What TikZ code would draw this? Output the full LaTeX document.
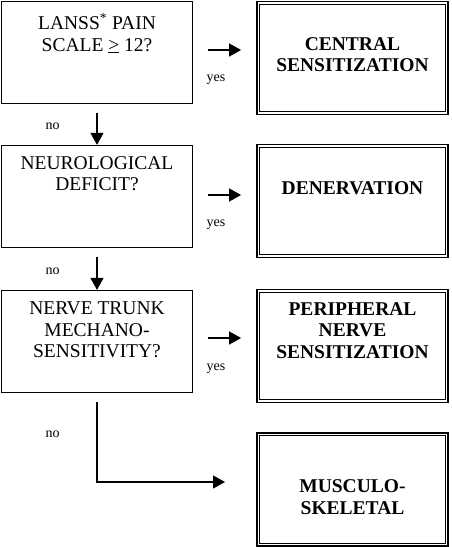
\documentclass[tikz,border=0pt]{standalone}
\usepackage{fontspec}
\setmainfont{Liberation Serif}
\usepackage{tikz}
\usetikzlibrary{arrows.meta}
\usetikzlibrary{positioning}

\tikzset{
  qbox/.style={draw, line width=1.2pt, minimum width=191pt, minimum height=102pt, inner sep=0pt},
  qtext/.style={align=center, inner sep=0pt, font=\fontsize{19.5}{21.5}\selectfont},
  rbox/.style={draw, line width=1.8pt, minimum width=191pt, minimum height=113pt, inner sep=0pt,
    append after command={\pgfextra{\draw[line width=0.8pt]
      ([shift={(3.6pt,-3.6pt)}]\tikzlastnode.north west) rectangle
      ([shift={(-3.6pt,3.6pt)}]\tikzlastnode.south east);}}},
  rtext/.style={align=center, inner sep=0pt, font=\fontsize{19.5}{21.5}\selectfont\bfseries},
  small/.style={inner sep=0pt, font=\fontsize{14}{16}\selectfont},
  arrow/.style={line width=1.2pt, -{Triangle[length=12pt,width=13pt]}}
}

\begin{document}
\begin{tikzpicture}[x=1pt,y=-1pt]
\useasboundingbox (0,0) rectangle (451,547);

% questions
\node[qbox] (q1) at (97,52.5) {};
\node[qtext, below=12pt of q1.north] (q1t) {LANSS\textsuperscript{*} PAIN\\SCALE \underline{>} 12?};
\node[qbox] (q2) at (97,196.5) {};
\node[qtext, below=11pt of q2.north] (q2t) {NEUROLOGICAL\\DEFICIT?};
\node[qbox] (q3) at (97,341.5) {};
\node[qtext, below=12pt of q3.north] (q3t) {NERVE TRUNK\\MECHANO-\\SENSITIVITY?};

% outcomes
\node[rbox] (r1) at (352.5,58) {};
\node[rtext] (r1t) at (352.5,54.5) {CENTRAL\\SENSITIZATION};
\node[rbox] (r2) at (352.5,201) {};
\node[rtext] (r2t) at (352.5,188.5) {DENERVATION};
\node[rbox] (r3) at (352.5,346) {};
\node[rtext] (r3t) at (352.5,330.5) {PERIPHERAL\\NERVE\\SENSITIZATION};
\node[rbox] (r4) at (352.5,489.5) {};
\node[rtext] (r4t) at (352.5,497) {MUSCULO-\\SKELETAL};

% yes
\draw[arrow, shorten <=15pt, shorten >=15pt] (q1.east |- 0,50) -- (r1.west |- 0,50);
\draw[arrow, shorten <=15pt, shorten >=15pt] (q2.east |- 0,195) -- (r2.west |- 0,195);
\draw[arrow, shorten <=15pt, shorten >=15pt] (q3.east |- 0,338) -- (r3.west |- 0,338);
\node[small] (y1) at (216,80) {yes};
\node[small] (y2) at (216,225) {yes};
\node[small] (y3) at (216,369) {yes};

% no
\draw[arrow, shorten <=9pt] (q1.south) -- (q2.north);
\draw[arrow, shorten <=9pt] (q2.south) -- (q3.north);
\coordinate (end) at (225,482);
\draw[arrow, shorten <=9pt] (q3.south) |- (end);
\node[small] (n1) at (52.5,126) {no};
\node[small] (n2) at (52.5,271) {no};
\node[small] (n3) at (52.5,434) {no};
\end{tikzpicture}
\end{document}
